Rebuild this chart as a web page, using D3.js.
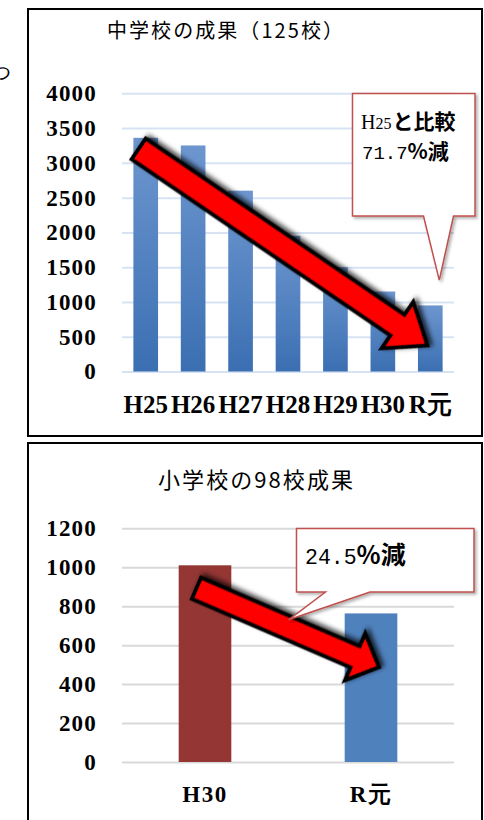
<!DOCTYPE html>
<html>
<head>
<meta charset="utf-8">
<script src="https://cdn.jsdelivr.net/npm/d3@7"></script>
<style>
body { margin:0; background:#fff; }
svg { display:block; }
</style>
</head>
<body>
<div id="chart-area"></div>
<script>
// data
var jhYears = ["H25", "H26", "H27", "H28", "H29", "H30", "R元"];
var jhValues = [3360, 3250, 2600, 1950, 1500, 1150, 950];
var jhTicks = [0, 500, 1000, 1500, 2000, 2500, 3000, 3500, 4000];

var esYears = ["H30", "R元"];
var esValues = [1010, 763];
var esTicks = [0, 200, 400, 600, 800, 1000, 1200];

var serif = "'Liberation Serif', 'DejaVu Serif', serif";
var mono = "'Liberation Mono', 'DejaVu Sans Mono', monospace";
var gothic = "'Noto Sans CJK JP', sans-serif";

var svg = d3.select("#chart-area")
    .append("svg")
        .attr("width", 484)
        .attr("height", 820);

var defs = svg.append("defs");
var grad = defs.append("linearGradient")
    .attr("id", "barGrad")
    .attr("x1", 0).attr("y1", 0).attr("x2", 0).attr("y2", 1);
grad.append("stop").attr("offset", "0%").attr("stop-color", "#6d96cf");
grad.append("stop").attr("offset", "100%").attr("stop-color", "#3b6fb2");

var arrowShadow = defs.append("filter")
    .attr("id", "arrowShadow")
    .attr("x", "-10%").attr("y", "-60%").attr("width", "120%").attr("height", "220%");
arrowShadow.append("feDropShadow")
    .attr("dx", 2).attr("dy", -3).attr("stdDeviation", 2.5)
    .attr("flood-color", "#000").attr("flood-opacity", 0.75);

var boxShadow = defs.append("filter")
    .attr("id", "boxShadow")
    .attr("x", "-10%").attr("y", "-10%").attr("width", "130%").attr("height", "130%");
boxShadow.append("feDropShadow")
    .attr("dx", 2).attr("dy", 2).attr("stdDeviation", 1.5)
    .attr("flood-color", "#000").attr("flood-opacity", 0.3);

// stray glyph at the left edge of the page
svg.append("text")
    .attr("x", -9).attr("y", 79)
    .attr("font-family", serif).attr("font-size", "20px")
    .text("つ");

// big red arrow drawn along its own axis then rotated
function drawArrow(g, x0, y0, x1, y1, hw, hh, hl) {
    var dx = x1 - x0, dy = y1 - y0;
    var len = Math.sqrt(dx * dx + dy * dy);
    var ang = Math.atan2(dy, dx) * 180 / Math.PI;
    var pts = [[0, -hw], [len - hl, -hw], [len - hl, -hh], [len, 0],
               [len - hl, hh], [len - hl, hw], [0, hw]];
    g.append("path")
        .attr("d", d3.line()(pts) + "Z")
        .attr("transform", "translate(" + x0 + "," + y0 + ") rotate(" + ang + ")")
        .attr("fill", "#ff0000")
        .attr("stroke", "#000")
        .attr("stroke-width", 4)
        .attr("stroke-linejoin", "miter")
        .attr("filter", "url(#arrowShadow)");
}

function styleYAxis(g, color) {
    g.select(".domain").remove();
    g.selectAll(".tick line")
        .attr("stroke", color)
        .attr("stroke-width", 2);
    g.selectAll(".tick text")
        .attr("font-family", serif)
        .attr("font-weight", "bold")
        .attr("font-size", "23px")
        .attr("letter-spacing", "1.2px")
        .attr("fill", "#000");
}

function styleXAxis(g, baseline) {
    g.select(".domain").remove();
    g.selectAll(".tick line").remove();
    g.selectAll(".tick text")
        .attr("y", baseline)
        .attr("dy", 0)
        .attr("font-family", serif)
        .attr("font-weight", "bold")
        .attr("fill", "#000");
}

// ---------- 中学校 ----------
var top1 = svg.append("g");

top1.append("rect")
    .attr("x", 28).attr("y", 9)
    .attr("width", 454).attr("height", 427)
    .attr("fill", "#fff")
    .attr("stroke", "#000")
    .attr("stroke-width", 2);

top1.append("text")
    .attr("x", 107).attr("y", 38)
    .attr("textLength", 236)
    .attr("lengthAdjust", "spacing")
    .attr("font-family", gothic)
    .attr("font-size", "20px")
    .text("中学校の成果（125校）");

var x1 = d3.scaleBand()
    .domain(jhYears)
    .range([122, 454])
    .paddingInner(0.48)
    .paddingOuter(0.24);
var y1 = d3.scaleLinear()
    .domain([0, 4000])
    .range([371.5, 93.3]);

var yAxis1 = top1.append("g")
    .attr("transform", "translate(122,0)")
    .call(d3.axisLeft(y1).tickValues(jhTicks).tickFormat(d3.format("d"))
        .tickSize(-332).tickPadding(25));
styleYAxis(yAxis1, "#d7e3f3");

top1.selectAll(".bar")
    .data(jhValues)
    .enter().append("rect")
        .attr("class", "bar")
        .attr("x", function(d, i) { return x1(jhYears[i]); })
        .attr("y", function(d) { return y1(d); })
        .attr("width", x1.bandwidth())
        .attr("height", function(d) { return y1(0) - y1(d); })
        .attr("fill", "url(#barGrad)");

var xAxis1 = top1.append("g")
    .attr("transform", "translate(0," + y1(0) + ")")
    .call(d3.axisBottom(x1).tickSize(0));
styleXAxis(xAxis1, 41);
xAxis1.selectAll(".tick text").attr("font-size", "25px");

var c1 = x1.bandwidth() / 2;
drawArrow(top1,
    x1("H25") + c1 - 7, y1(3200),
    x1("R元") + c1 - 3, y1(375),
    12.5, 28, 36);

// callout
var tip1x = x1("R元") + c1 + 9, tip1y = y1(1314);
top1.append("path")
    .attr("d", "M352.5,93.5 H475 V216 H453.5 L" + tip1x + "," + tip1y + " L423.5,216 H352.5 Z")
    .attr("fill", "#fff")
    .attr("stroke", "#c0504d")
    .attr("stroke-width", 1.5)
    .attr("filter", "url(#boxShadow)");

var line1 = top1.append("text")
    .attr("x", 361).attr("y", 129);
line1.append("tspan")
    .attr("font-family", serif).attr("font-size", "20px")
    .text("H");
line1.append("tspan")
    .attr("font-family", serif).attr("font-size", "16px")
    .text("25");
line1.append("tspan")
    .attr("dx", 1)
    .attr("font-family", gothic).attr("font-weight", "bold").attr("font-size", "21px")
    .text("と比較");

var line2 = top1.append("text")
    .attr("x", 362).attr("y", 159);
line2.append("tspan")
    .attr("font-family", mono).attr("font-size", "19px")
    .text("71.7");
line2.append("tspan")
    .attr("font-family", gothic).attr("font-weight", "bold").attr("font-size", "21px")
    .text("%減");

// ---------- 小学校 ----------
var bot = svg.append("g");

bot.append("rect")
    .attr("x", 28).attr("y", 443)
    .attr("width", 454).attr("height", 400)
    .attr("fill", "#fff")
    .attr("stroke", "#000")
    .attr("stroke-width", 2);

bot.append("text")
    .attr("x", 158).attr("y", 488)
    .attr("textLength", 195)
    .attr("lengthAdjust", "spacing")
    .attr("font-family", gothic)
    .attr("font-size", "22px")
    .text("小学校の98校成果");

var x2 = d3.scaleBand()
    .domain(esYears)
    .range([122, 454])
    .paddingInner(0.683)
    .paddingOuter(0.3415);
var y2 = d3.scaleLinear()
    .domain([0, 1200])
    .range([762, 528.3]);
var esColors = ["#943634", "#4f81bd"];

var yAxis2 = bot.append("g")
    .attr("transform", "translate(122,0)")
    .call(d3.axisLeft(y2).tickValues(esTicks).tickFormat(d3.format("d"))
        .tickSize(-332).tickPadding(25));
styleYAxis(yAxis2, "#d9d9d9");

bot.selectAll(".bar")
    .data(esValues)
    .enter().append("rect")
        .attr("class", "bar")
        .attr("x", function(d, i) { return x2(esYears[i]); })
        .attr("y", function(d) { return y2(d); })
        .attr("width", x2.bandwidth())
        .attr("height", function(d) { return y2(0) - y2(d); })
        .attr("fill", function(d, i) { return esColors[i]; });

var xAxis2 = bot.append("g")
    .attr("transform", "translate(0," + y2(0) + ")")
    .call(d3.axisBottom(x2).tickSize(0));
styleXAxis(xAxis2, 39.5);
xAxis2.selectAll(".tick text")
    .attr("font-size", "23px")
    .attr("letter-spacing", "1.5px");

var c2 = x2.bandwidth() / 2;
drawArrow(bot,
    x2("H30") + c2 - 8.5, y2(892),
    x2("R元") + c2 + 8, y2(487),
    11.5, 25.5, 26);

var tip2x = x2("H30") + c2 + 83.5, tip2y = y2(730);
bot.append("path")
    .attr("d", "M296.5,528.5 H474 V592 H370 L" + tip2x + "," + tip2y + " L325.5,592 H296.5 Z")
    .attr("fill", "#fff")
    .attr("stroke", "#c0504d")
    .attr("stroke-width", 1.5)
    .attr("filter", "url(#boxShadow)");

var lbl2 = bot.append("text")
    .attr("x", 305).attr("y", 563.5);
lbl2.append("tspan")
    .attr("font-family", mono).attr("font-size", "21.5px")
    .text("24.5");
lbl2.append("tspan")
    .attr("font-family", gothic).attr("font-weight", "bold").attr("font-size", "25px")
    .text("%減");
</script>
</body>
</html>
